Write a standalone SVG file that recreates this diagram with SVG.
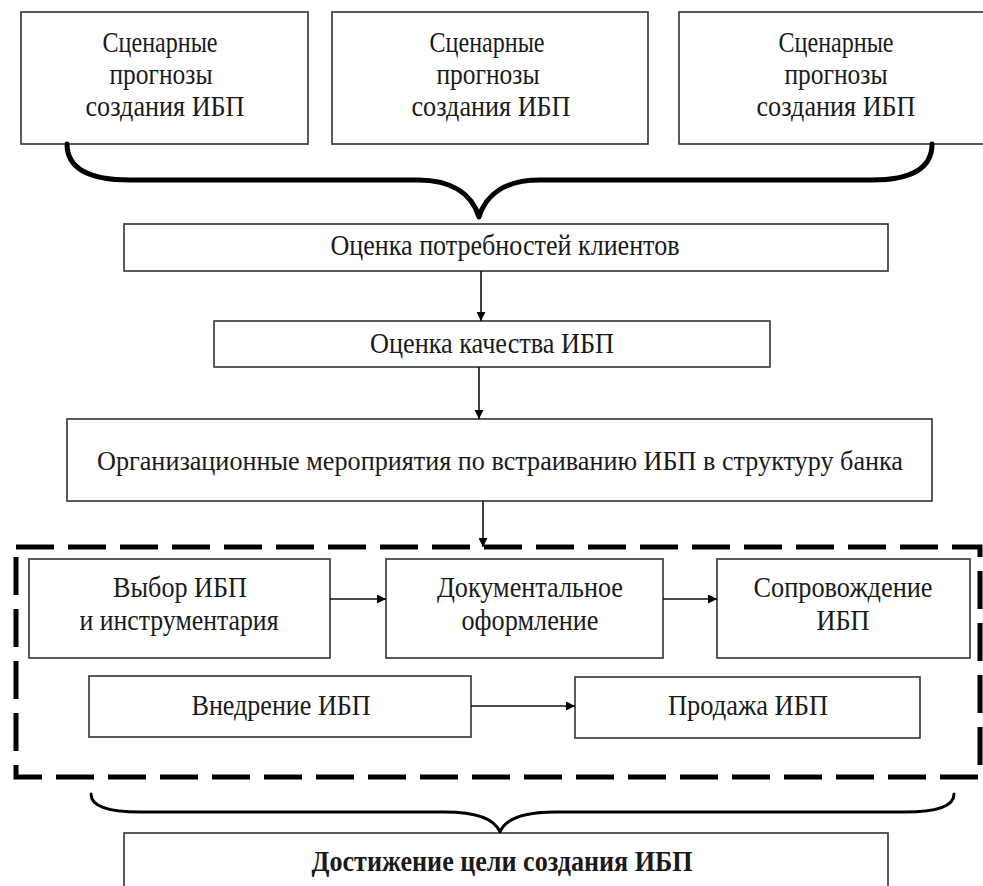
<svg xmlns="http://www.w3.org/2000/svg" width="983" height="886" viewBox="0 0 983 886">
<defs>
<style>
.box{fill:#fff;stroke:#333;stroke-width:1.6}
.t{font-family:"Liberation Serif","DejaVu Serif",serif;font-size:30px;fill:#1a1a1a;text-anchor:middle}
.b{font-weight:bold}
.ln{stroke:#111;stroke-width:1.6;fill:none}
.brace{fill:none;stroke:#000;stroke-linecap:round;stroke-linejoin:round}
</style>
<marker id="ah" viewBox="0 0 10 10" refX="10" refY="5" markerWidth="11" markerHeight="9" markerUnits="userSpaceOnUse" orient="auto">
<path d="M0,0 L10,5 L0,10 Z" fill="#000"/>
</marker>
</defs>
<rect width="983" height="886" fill="#fff"/>

<g id="s1">
<rect class="box" x="21" y="12" width="287" height="132"/>
<text class="t" x="160" y="52" textLength="115" lengthAdjust="spacingAndGlyphs">Сценарные</text>
<text class="t" x="161" y="84" textLength="103" lengthAdjust="spacingAndGlyphs">прогнозы</text>
<text class="t" x="165" y="116" textLength="159" lengthAdjust="spacingAndGlyphs">создания ИБП</text>
</g>
<g id="s2">
<rect class="box" x="332" y="12" width="316" height="132"/>
<text class="t" x="487" y="52" textLength="115" lengthAdjust="spacingAndGlyphs">Сценарные</text>
<text class="t" x="488" y="84" textLength="103" lengthAdjust="spacingAndGlyphs">прогнозы</text>
<text class="t" x="491" y="116" textLength="159" lengthAdjust="spacingAndGlyphs">создания ИБП</text>
</g>
<g id="s3">
<rect class="box" x="679" y="12" width="310" height="132"/>
<text class="t" x="836" y="52" textLength="115" lengthAdjust="spacingAndGlyphs">Сценарные</text>
<text class="t" x="836" y="84" textLength="103" lengthAdjust="spacingAndGlyphs">прогнозы</text>
<text class="t" x="836" y="116" textLength="159" lengthAdjust="spacingAndGlyphs">создания ИБП</text>
</g>

<g id="n1">
<rect class="box" x="124" y="224" width="764" height="47"/>
<text class="t" x="505" y="255" textLength="349" lengthAdjust="spacingAndGlyphs">Оценка потребностей клиентов</text>
</g>
<g id="n2">
<rect class="box" x="214" y="321" width="556" height="46"/>
<text class="t" x="492" y="353" textLength="244" lengthAdjust="spacingAndGlyphs">Оценка качества ИБП</text>
</g>
<g id="n3">
<rect class="box" x="67" y="419" width="865" height="82"/>
<text class="t" x="500" y="470" style="font-size:28px" textLength="806" lengthAdjust="spacingAndGlyphs">Организационные мероприятия по встраиванию ИБП в структуру банка</text>
</g>

<g id="group">
<rect x="16" y="547" width="964" height="230" fill="none" stroke="#000" stroke-width="5" stroke-dasharray="38 14"/>
</g>

<g id="n4">
<rect class="box" x="29" y="559" width="301" height="99"/>
<text class="t" x="180" y="597" textLength="134" lengthAdjust="spacingAndGlyphs">Выбор ИБП</text>
<text class="t" x="179" y="630" textLength="199" lengthAdjust="spacingAndGlyphs">и инструментария</text>
</g>
<g id="n5">
<rect class="box" x="386" y="559" width="277" height="99"/>
<text class="t" x="530" y="597" textLength="186" lengthAdjust="spacingAndGlyphs">Документальное</text>
<text class="t" x="530" y="630" textLength="137" lengthAdjust="spacingAndGlyphs">оформление</text>
</g>
<g id="n6">
<rect class="box" x="717" y="559" width="253" height="99"/>
<text class="t" x="843" y="597" textLength="179" lengthAdjust="spacingAndGlyphs">Сопровождение</text>
<text class="t" x="843" y="630" textLength="53" lengthAdjust="spacingAndGlyphs">ИБП</text>
</g>
<g id="n7">
<rect class="box" x="89" y="676" width="382" height="61"/>
<text class="t" x="281" y="715" textLength="179" lengthAdjust="spacingAndGlyphs">Внедрение ИБП</text>
</g>
<g id="n8">
<rect class="box" x="575" y="677" width="345" height="61"/>
<text class="t" x="748" y="715" textLength="160" lengthAdjust="spacingAndGlyphs">Продажа ИБП</text>
</g>

<g id="n9">
<rect class="box" x="124" y="833" width="764" height="70"/>
<text class="t b" x="502" y="871" textLength="381" lengthAdjust="spacingAndGlyphs">Достижение цели создания ИБП</text>
</g>

<g id="connectors">
<path class="brace" stroke-width="5" d="M67,144 C67,168 88,180 130,180 L418,180 C452,180 472,194 479,217 C486,194 506,180 540,180 L872,180 C912,180 932,168 932,144"/>
<path class="brace" stroke-width="3" d="M91,794 C91,806 108,812 140,812 L445,812 C478,812 495,820 500,832 C505,820 522,812 555,812 L905,812 C937,812 954,806 954,794"/>
<line class="ln" x1="481" y1="271" x2="481" y2="321" marker-end="url(#ah)"/>
<line class="ln" x1="479" y1="367" x2="479" y2="419" marker-end="url(#ah)"/>
<line class="ln" x1="483" y1="501" x2="483" y2="547" marker-end="url(#ah)"/>
<line class="ln" x1="330" y1="599" x2="386" y2="599" marker-end="url(#ah)"/>
<line class="ln" x1="663" y1="599" x2="717" y2="599" marker-end="url(#ah)"/>
<line class="ln" x1="471" y1="706" x2="575" y2="706" marker-end="url(#ah)"/>
</g>
</svg>
